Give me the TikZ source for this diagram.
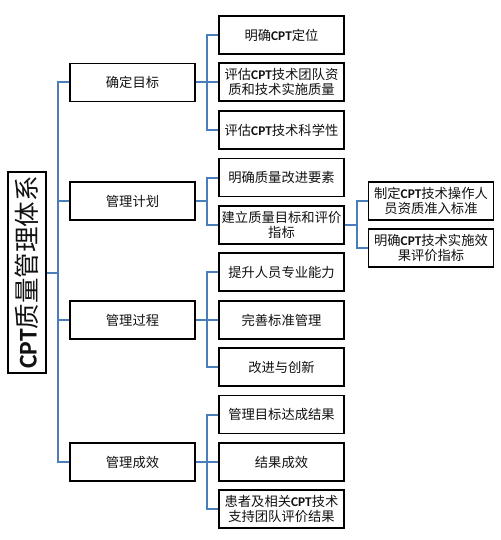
\documentclass[tikz,border=0pt]{standalone}
\usepackage{fontspec}
\usepackage{tikz}
\usepackage{xcolor}
\setmainfont{Noto Sans CJK SC}
\newfontfamily\latinfont{Carlito}
\definecolor{FontColor}{HTML}{111111}
\definecolor{LinkBlue}{HTML}{4A7EBB}
\newcommand\cpt{{\latinfont\bfseries CPT}}
\newcommand\nodeqm{\cpt{}质量管理体系}
\newcommand\nodegoal{确定目标}
\newcommand\nodeplan{管理计划}
\newcommand\nodeproc{管理过程}
\newcommand\nodeeff{管理成效}
\newcommand\nodega{明确\cpt{}定位}
\newcommand\nodegb{评估\cpt{}技术团队资\\质和技术实施质量}
\newcommand\nodegc{评估\cpt{}技术科学性}
\newcommand\nodepa{明确质量改进要素}
\newcommand\nodepb{建立质量目标和评价\\指标}
\newcommand\nodepba{制定\cpt{}技术操作人\\员资质准入标准}
\newcommand\nodepbb{明确\cpt{}技术实施效\\果评价指标}
\newcommand\nodepra{提升人员专业能力}
\newcommand\nodeprb{完善标准管理}
\newcommand\nodeprc{改进与创新}
\newcommand\nodeea{管理目标达成结果}
\newcommand\nodeeb{结果成效}
\newcommand\nodeec{患者及相关\cpt{}技术\\支持团队评价结果}
\tikzstyle{boxstyle} = [rectangle, draw=black, line width=1.9pt, minimum width=125pt, minimum height=38pt, align=center, inner sep=1pt, text=FontColor, font=\fontsize{13.3}{15.5}\selectfont]
\tikzstyle{rootbox} = [boxstyle, minimum width=201pt, font=\fontsize{25.5}{27}\selectfont]
\tikzstyle{link} = [draw=LinkBlue, line width=2pt]
\tikzset{every picture/.style={line width=1pt}}
\begin{document}
\begin{tikzpicture}[x=1pt, y=-1pt]
\useasboundingbox (0, 0) rectangle (500, 540);
\node[rootbox, rotate=90] (qm) at (27, 272.5) {\nodeqm};
\node[boxstyle] (goal) at (132.5, 82.5) {\nodegoal};
\node[boxstyle] (plan) at (132.5, 201) {\nodeplan};
\node[boxstyle] (proc) at (132.5, 320) {\nodeproc};
\node[boxstyle] (eff) at (132.5, 462) {\nodeeff};
\node[boxstyle] (ga) at (281.5, 35) {\nodega};
\node[boxstyle] (gb) at (281.5, 82) {\nodegb};
\node[boxstyle] (gc) at (281.5, 130) {\nodegc};
\node[boxstyle] (pa) at (281.5, 177.5) {\nodepa};
\node[boxstyle] (pb) at (281.5, 225) {\nodepb};
\node[boxstyle] (pra) at (281.5, 272) {\nodepra};
\node[boxstyle] (prb) at (281.5, 320) {\nodeprb};
\node[boxstyle] (prc) at (281.5, 367) {\nodeprc};
\node[boxstyle] (ea) at (281.5, 414.5) {\nodeea};
\node[boxstyle] (eb) at (281.5, 462) {\nodeeb};
\node[boxstyle] (ec) at (281.5, 509) {\nodeec};
\node[boxstyle] (pba) at (431, 201) {\nodepba};
\node[boxstyle] (pbb) at (431, 248) {\nodepbb};
\coordinate (trunk) at (58, 272.5);
\coordinate (bgoal) at (207, 82.5);
\coordinate (bplan) at (207, 201);
\coordinate (bproc) at (207, 320);
\coordinate (beff) at (207, 462);
\coordinate (bpb) at (357, 225);
\draw [link] (qm.south) -- (trunk);
\draw [link] (trunk) |- (goal);
\draw [link] (trunk) |- (plan);
\draw [link] (trunk) |- (proc);
\draw [link] (trunk) |- (eff);
\draw [link] (goal) -- (bgoal);
\draw [link] (bgoal) |- (ga);
\draw [link] (bgoal) |- (gb);
\draw [link] (bgoal) |- (gc);
\draw [link] (plan) -- (bplan);
\draw [link] (bplan) |- (pa);
\draw [link] (bplan) |- (pb);
\draw [link] (proc) -- (bproc);
\draw [link] (bproc) |- (pra);
\draw [link] (bproc) |- (prb);
\draw [link] (bproc) |- (prc);
\draw [link] (eff) -- (beff);
\draw [link] (beff) |- (ea);
\draw [link] (beff) |- (eb);
\draw [link] (beff) |- (ec);
\draw [link] (pb) -- (bpb);
\draw [link] (bpb) |- (pba);
\draw [link] (bpb) |- (pbb);
\end{tikzpicture}
\end{document}
